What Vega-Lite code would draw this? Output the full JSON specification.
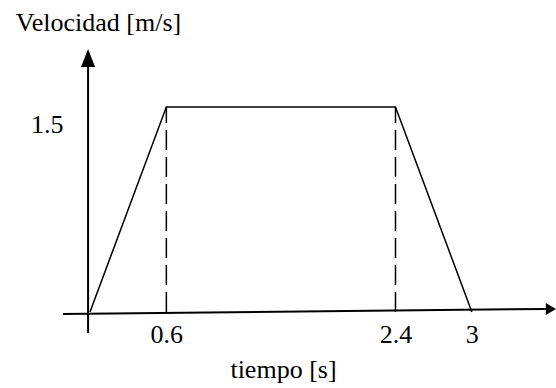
{
  "$schema": "https://vega.github.io/schema/vega-lite/v6.json",
  "width": 493,
  "height": 284,
  "autosize": {"type": "none"},
  "padding": {"left": 63, "top": 49, "right": 0, "bottom": 55},
  "background": "white",
  "config": {"view": {"stroke": null}, "font": "Times New Roman, Liberation Serif, serif"},
  "datasets": {
    "profile": [{"t": 0, "v": 0}, {"t": 0.6, "v": 1.5}, {"t": 2.4, "v": 1.5}, {"t": 3, "v": 0}],
    "guides": [{"t": 0.6, "v": 0, "v2": 1.5}, {"t": 2.4, "v": 0, "v2": 1.5}],
    "xaxis": [{"t": -0.212, "v": -0.015, "t2": 3.6, "v2": 0.022}],
    "yaxis": [{"t": -0.015, "v": -0.154, "t2": -0.015, "v2": 1.84}],
    "arrowUp": [{"t": -0.015, "v": 1.858}],
    "arrowRight": [{"t": 3.621, "v": 0.022}]
  },
  "encoding": {
    "x": {
      "field": "t", "type": "quantitative",
      "scale": {"domain": [-0.212, 3.661], "nice": false, "zero": false},
      "axis": {
        "values": [0.6, 2.4, 3], "format": ".1~f",
        "domain": false, "ticks": false, "tickSize": 0, "grid": false,
        "labelFont": "Times New Roman, Liberation Serif, serif", "labelFontSize": 26, "labelColor": "black",
        "labelBaseline": "alphabetic", "labelPadding": 9, "labelFlush": false, "labelOverlap": false,
        "title": "tiempo [s]", "titleFont": "Times New Roman, Liberation Serif, serif", "titleFontSize": 26,
        "titleFontWeight": "normal", "titleColor": "black",
        "titleX": 220, "titleY": 44, "titleAlign": "center", "titleBaseline": "alphabetic"
      }
    },
    "y": {
      "field": "v", "type": "quantitative",
      "scale": {"domain": [-0.154, 1.924], "nice": false, "zero": false},
      "axis": {
        "values": [1.5], "format": ".1~f",
        "domain": false, "ticks": false, "tickSize": 0, "grid": false,
        "labelFont": "Times New Roman, Liberation Serif, serif", "labelFontSize": 26, "labelColor": "black",
        "labelBaseline": "alphabetic", "labelOffset": 26, "labelPadding": 0, "labelFlush": false,
        "title": "Velocidad [m/s]", "titleFont": "Times New Roman, Liberation Serif, serif", "titleFontSize": 26,
        "titleFontWeight": "normal", "titleColor": "black", "titleAngle": 0,
        "titleX": 35, "titleY": -19, "titleAlign": "center", "titleBaseline": "alphabetic"
      }
    }
  },
  "layer": [
    {
      "data": {"name": "profile"},
      "mark": {"type": "line", "color": "black", "strokeWidth": 1.5}
    },
    {
      "data": {"name": "guides"},
      "mark": {"type": "rule", "color": "black", "strokeWidth": 1.5, "strokeDash": [20, 7]},
      "encoding": {"y2": {"field": "v2"}}
    },
    {
      "data": {"name": "xaxis"},
      "mark": {"type": "rule", "color": "black", "strokeWidth": 2},
      "encoding": {"x2": {"field": "t2"}, "y2": {"field": "v2"}}
    },
    {
      "data": {"name": "yaxis"},
      "mark": {"type": "rule", "color": "black", "strokeWidth": 2},
      "encoding": {"x2": {"field": "t2"}, "y2": {"field": "v2"}}
    },
    {
      "data": {"name": "arrowUp"},
      "mark": {"type": "point", "filled": true, "color": "black", "opacity": 1, "shape": "M-0.78,1L0,-1L0.78,1Z", "size": 324}
    },
    {
      "data": {"name": "arrowRight"},
      "mark": {"type": "point", "filled": true, "color": "black", "opacity": 1, "shape": "M-0.85,-1L0.85,0L-0.85,1Z", "size": 144}
    }
  ]
}
